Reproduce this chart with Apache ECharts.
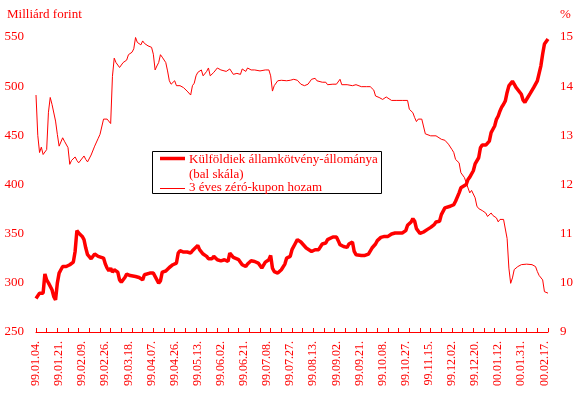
<!DOCTYPE html>
<html>
<head>
<meta charset="utf-8">
<script src="https://cdn.jsdelivr.net/npm/echarts@6/dist/echarts.min.js"></script>
<style>
html,body{margin:0;padding:0;background:#fff;}
#chart{width:578px;height:394px;}
</style>
</head>
<body>
<div id="chart"></div>
<script>
// Trading-day labels (every 13th trading day)
const tickLabels = ['99.01.04.','99.01.21.','99.02.09.','99.02.26.','99.03.18.','99.04.07.','99.04.26.','99.05.13.','99.06.02.','99.06.21.','99.07.08.','99.07.27.','99.08.13.','99.09.02.','99.09.21.','99.10.08.','99.10.27.','99.11.15.','99.12.02.','99.12.20.','00.01.12.','00.01.31.','00.02.17.'];
const lastDay = 288;

// Külföldiek államkötvény-állománya (milliárd forint), trading-day index / value
const holdDay = [0,1,2,3,4,5,6,7,9,10,11,12,13,14,15,17,19,21,22,23,24,26,27,28,29,31,32,33,35,36,38,39,40,41,42,43,44,46,47,48,50,51,53,54,56,58,60,61,62,64,66,67,69,70,71,73,75,77,79,80,81,83,85,87,88,89,91,92,94,96,97,99,100,102,104,106,108,109,111,112,114,116,118,119,121,123,125,127,128,129,131,132,133,134,136,138,140,141,143,144,146,147,149,150,152,153,155,156,157,159,161,163,164,167,169,170,171,173,175,176,178,179,180,183,185,187,189,191,192,194,196,198,200,202,204,206,208,209,211,212,213,214,216,217,218,220,222,224,225,227,228,230,231,233,235,236,237,238,239,240,242,243,244,245,246,247,249,250,251,253,254,255,256,258,259,260,261,262,263,264,265,266,268,269,270,271,273,274,275,276,278,280,282,283,284,285,286,288];
const holdVal = [284,282,289.5,290.5,289.5,309,303,300,292.9,286,282.7,299.7,309.9,313.3,316.6,316.6,318.4,321.1,331.9,353.1,350.7,347.2,343.9,335.4,328.6,324.5,323.5,329.3,326.9,325.8,325.2,319.1,315,312.2,315,310.9,313.3,310.9,303,300.7,305.4,308.9,307.4,308.2,306.4,305.4,303,308.2,309.9,309.9,309.9,308.2,299.7,302,310.9,312,315.6,318.4,320.1,330.3,332.7,331.3,331.3,330.3,332.7,334.7,338.1,333.7,329.3,326.9,324.5,324.5,326.9,323.5,322.4,323.5,321.7,330.3,325.8,324.5,323.5,318.4,316.6,319.1,322.4,321.7,320.1,315,313.3,321.1,323.5,327.9,315,311.5,309.9,313.3,319.1,325.2,326.9,333.7,340.5,343.9,341.5,340.5,335.4,333.7,331.9,331.9,333.7,333.7,339.5,340.5,343.9,346.6,346.6,342.9,338.8,337,336,339.5,341.5,331.9,328.6,327.9,327.9,329.3,335.4,339.5,342.9,346.2,347.2,347.2,349.7,350.7,350.7,350.7,353.1,358.5,361.9,365.3,362.6,355.1,350.2,349.7,351.7,354.1,356.4,359.2,361.9,362.6,369.4,376.2,377.9,377.9,379.6,383,384.7,391.5,396.6,398.3,400,405.1,407.5,409,414,421,427.2,437.4,440.1,440.1,440.1,444.2,452.8,459.5,466.3,469.7,474.8,478.9,481.6,485,493.6,500.3,505,502,498.7,496.9,491.8,485.7,483.4,486.7,492.6,498.7,505.4,513,520.7,532.7,542.9,548];

// 3 éves zéró-kupon hozam (%), trading-day index / value
const yieldDay = [0,1,2,3,4,6,7,8,9,11,12,13,15,16,18,19,20,22,23,24,27,28,29,31,33,35,36,38,40,42,43,44,45,47,49,51,52,54,55,56,57,59,60,61,63,65,66,67,68,69,70,71,73,74,75,76,78,79,81,83,85,87,88,89,90,91,93,94,96,97,98,100,102,104,105,107,109,111,113,115,116,118,119,121,123,126,129,131,132,133,134,136,138,141,143,145,147,149,151,153,155,157,158,161,163,164,167,169,171,172,175,178,180,183,186,188,190,191,193,195,197,198,200,203,206,209,210,212,213,214,215,217,218,219,220,222,225,226,228,230,232,234,235,236,237,238,239,240,241,243,244,245,246,247,248,249,251,253,254,256,257,259,260,261,263,264,265,266,267,268,269,271,273,276,279,281,282,283,285,286,288];
const yieldVal = [13.82,13.0,12.65,12.76,12.61,12.71,13.47,13.77,13.63,13.29,13.02,12.78,12.95,12.88,12.75,12.41,12.49,12.56,12.49,12.44,12.58,12.51,12.46,12.60,12.78,12.94,13.02,13.33,13.33,13.24,14.2,14.57,14.48,14.38,14.48,14.53,14.64,14.69,14.76,14.99,14.89,14.84,14.92,14.87,14.82,14.79,14.65,14.33,14.41,14.48,14.64,14.59,14.48,14.31,14.11,14.04,14.11,14.01,14.01,13.97,13.90,13.82,14.01,14.06,14.21,14.28,14.33,14.21,14.30,14.37,14.21,14.28,14.37,14.33,14.35,14.30,14.35,14.24,14.26,14.24,14.35,14.30,14.37,14.33,14.33,14.31,14.33,14.33,14.21,13.90,14.01,14.11,14.12,14.11,14.12,14.14,14.12,14.04,14.01,14.04,14.14,14.16,14.11,14.08,14.08,14.03,14.04,14.04,14.14,14.03,14.03,14.01,14.03,13.99,13.99,13.99,13.92,13.80,13.77,13.73,13.78,13.76,13.71,13.71,13.71,13.71,13.53,13.46,13.36,13.28,13.33,13.33,13.33,13.03,13.01,12.99,12.99,12.97,12.92,12.90,12.82,12.71,12.65,12.51,12.49,12.44,12.24,12.20,12.14,11.93,11.83,11.88,11.85,11.73,11.56,11.51,11.47,11.42,11.35,11.42,11.37,11.32,11.24,11.29,11.29,11.25,10.9,10.3,9.99,10.10,10.27,10.33,10.37,10.38,10.37,10.33,10.23,10.15,10.06,9.82,9.79];

const leftTicks = {min:250, max:550, step:50};
const rightTicks = {min:9, max:15, step:1};

const FONT = '"Liberation Serif", "Times New Roman", serif';
const RED = '#ff0000';

const zip = (a, b) => a.map((d, i) => [d, b[i]]);

const chart = echarts.init(document.getElementById('chart'), null, {renderer:'canvas'});
chart.setOption({
  animation: false,
  backgroundColor: '#ffffff',
  grid: {left: 36, right: 30, top: 37, bottom: 62, containLabel: false},
  xAxis: [
    {
      type: 'value', min: 0, max: lastDay, interval: 13, position: 'bottom',
      axisLine: {show: true, onZero: false, lineStyle: {color: RED, width: 1}},
      axisTick: {show: false},
      splitLine: {show: false},
      axisLabel: {
        rotate: 90, margin: 9, color: RED, fontFamily: FONT, fontSize: 12,
        showMinLabel: true, showMaxLabel: true,
        formatter: function (v) {
          const k = Math.round(v / 13);
          return Math.abs(v - k * 13) < 1e-6 && tickLabels[k] ? tickLabels[k] : '';
        }
      }
    },
    {
      type: 'value', min: 0, max: lastDay, interval: 6, position: 'bottom',
      axisLine: {show: false, onZero: false},
      axisTick: {show: true, inside: true, length: 4, lineStyle: {color: RED, width: 1}},
      axisLabel: {show: false},
      splitLine: {show: false}
    }
  ],
  yAxis: [
    {
      type: 'value', min: leftTicks.min, max: leftTicks.max, interval: leftTicks.step, position: 'left',
      axisLine: {show: false}, axisTick: {show: false}, splitLine: {show: false},
      axisLabel: {color: RED, fontFamily: FONT, fontSize: 13, margin: 12}
    },
    {
      type: 'value', min: rightTicks.min, max: rightTicks.max, interval: rightTicks.step, position: 'right',
      axisLine: {show: false}, axisTick: {show: false}, splitLine: {show: false},
      axisLabel: {color: RED, fontFamily: FONT, fontSize: 13, margin: 12}
    }
  ],
  series: [
    {
      name: 'Külföldiek államkötvény-állománya (bal skála)', type: 'line',
      xAxisIndex: 0, yAxisIndex: 0, showSymbol: false, symbol: 'none',
      lineStyle: {color: RED, width: 3.5}, itemStyle: {color: RED},
      data: zip(holdDay, holdVal), z: 3
    },
    {
      name: '3 éves zéró-kupon hozam', type: 'line',
      xAxisIndex: 0, yAxisIndex: 1, showSymbol: false, symbol: 'none',
      lineStyle: {color: RED, width: 1}, itemStyle: {color: RED},
      data: zip(yieldDay, yieldVal), z: 2
    }
  ],
  graphic: [
    {type: 'text', left: 7, top: 8, style: {text: 'Milliárd forint', fill: RED, font: '13px ' + FONT}},
    {type: 'text', left: 560, top: 8, style: {text: '%', fill: RED, font: '13px ' + FONT}},
    {type: 'rect', z: 10, shape: {x: 152.5, y: 151.5, width: 229, height: 42}, style: {fill: '#fff', stroke: '#000', lineWidth: 1}},
    {type: 'line', z: 11, shape: {x1: 160, y1: 158.5, x2: 185, y2: 158.5}, style: {stroke: RED, lineWidth: 3.5}},
    {type: 'line', z: 11, shape: {x1: 160, y1: 188.5, x2: 185, y2: 188.5}, style: {stroke: RED, lineWidth: 1}},
    {type: 'text', z: 11, x: 189, y: 160, style: {text: 'Külföldiek államkötvény-állománya', fill: RED, font: '13px ' + FONT, verticalAlign: 'middle'}},
    {type: 'text', z: 11, x: 189, y: 175, style: {text: '(bal skála)', fill: RED, font: '13px ' + FONT, verticalAlign: 'middle'}},
    {type: 'text', z: 11, x: 189, y: 188, style: {text: '3 éves zéró-kupon hozam', fill: RED, font: '13px ' + FONT, verticalAlign: 'middle'}}
  ]
});
</script>
</body>
</html>
